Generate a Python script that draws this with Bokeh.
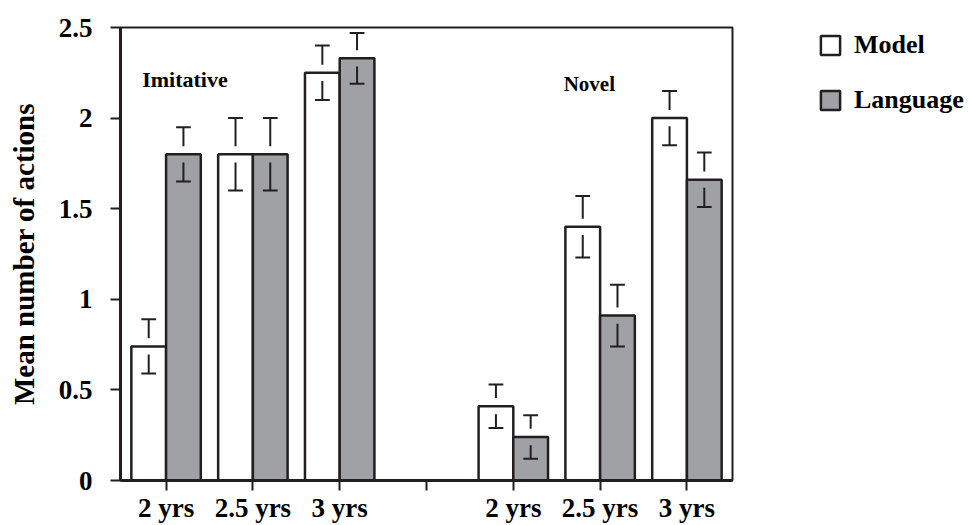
from bokeh.plotting import figure
from bokeh.models import (ColumnDataSource, Range1d, FixedTicker, Legend, LegendItem, Label)
from bokeh.layouts import row
from bokeh.embed import file_html
from bokeh.resources import INLINE

# ---------------- data ----------------
groups = ["Imitative", "Novel"]
ages = ["2 yrs", "2.5 yrs", "3 yrs"]
series = ["Model", "Language"]

imitative_model = [0.74, 1.80, 2.25]
imitative_model_err = [0.15, 0.20, 0.15]
imitative_language = [1.80, 1.80, 2.33]
imitative_language_err = [0.15, 0.20, 0.14]

novel_model = [0.41, 1.40, 2.00]
novel_model_err = [0.12, 0.17, 0.15]
novel_language = [0.24, 0.91, 1.66]
novel_language_err = [0.12, 0.17, 0.15]

y_ticks = [0, 0.5, 1, 1.5, 2, 2.5]
y_tick_labels = ["0", "0.5", "1", "1.5", "2", "2.5"]

# ---------------- styles ----------------
FONT = "Liberation Serif"
INK = "#231f20"
GREY = "#a0a1a5"
BAR_W = 0.4
OFFSET = 0.2
CAP_W = 0.17
GAP = 0.045
fills = {series[0]: "white", series[1]: GREY}

# tick positions: 1..3 for first group, 4 empty, 5..7 for second group
tick_pos = []
tick_lab = {}
group_x = {}
pos = 1
for gi, g in enumerate(groups):
    group_x[g] = []
    for a in ages:
        tick_pos.append(pos)
        tick_lab[pos] = a
        group_x[g].append(pos)
        pos += 1
    if gi < len(groups) - 1:
        tick_pos.append(pos)
        tick_lab[pos] = ""
        pos += 1

centers = group_x[groups[0]] + group_x[groups[1]]
series_vals = {series[0]: imitative_model + novel_model,
               series[1]: imitative_language + novel_language}
series_errs = {series[0]: imitative_model_err + novel_model_err,
               series[1]: imitative_language_err + novel_language_err}
series_shift = {series[0]: -OFFSET, series[1]: OFFSET}

p = figure(width=734, height=525, output_backend="svg", toolbar_location=None,
           x_range=Range1d(0.475, 7.525), y_range=Range1d(0, 2.5),
           min_border_left=120, min_border_top=27, min_border_right=2,
           min_border_bottom=44)
p.xgrid.visible = False
p.ygrid.visible = False
p.outline_line_color = INK
p.outline_line_width = 2
p.background_fill_color = "white"
p.border_fill_color = "white"

sources = {}
for s in series:
    vals = series_vals[s]
    errs = series_errs[s]
    xs = [c + series_shift[s] for c in centers]
    src = ColumnDataSource(dict(x=xs, top=vals))
    sources[s] = src
    p.vbar(x="x", top="top", width=BAR_W, bottom=0, source=src,
           fill_color=fills[s], line_color=INK, line_width=2.5)
    up0 = [v + GAP for v in vals]
    up1 = [v + e for v, e in zip(vals, errs)]
    lo0 = [v - GAP for v in vals]
    lo1 = [v - e for v, e in zip(vals, errs)]
    p.segment(x0=xs, y0=up0, x1=xs, y1=up1, line_color=INK, line_width=2)
    p.segment(x0=xs, y0=lo0, x1=xs, y1=lo1, line_color=INK, line_width=2)
    p.segment(x0=[x - CAP_W / 2 for x in xs], y0=up1, x1=[x + CAP_W / 2 for x in xs], y1=up1,
              line_color=INK, line_width=2)
    p.segment(x0=[x - CAP_W / 2 for x in xs], y0=lo1, x1=[x + CAP_W / 2 for x in xs], y1=lo1,
              line_color=INK, line_width=2)

# axes
p.xaxis.ticker = FixedTicker(ticks=tick_pos)
p.xaxis.major_label_overrides = tick_lab
p.yaxis.ticker = FixedTicker(ticks=y_ticks)
p.yaxis.major_label_overrides = {t: l for t, l in zip(y_ticks, y_tick_labels)}
for ax in (p.xaxis[0], p.yaxis[0]):
    ax.axis_line_color = INK
    ax.axis_line_width = 3
    ax.major_tick_line_color = INK
    ax.major_tick_line_width = 2
    ax.major_tick_in = 0
    ax.major_tick_out = 10
    ax.minor_tick_line_color = None
    ax.major_label_text_font = FONT
    ax.major_label_text_font_style = "bold"
    ax.major_label_text_font_size = "27px"
    ax.major_label_text_color = "black"
p.xaxis.major_label_standoff = 2
p.yaxis.major_label_standoff = 18
p.yaxis.axis_label = "Mean number of actions"
p.yaxis.axis_label_text_font = FONT
p.yaxis.axis_label_text_font_style = "bold"
p.yaxis.axis_label_text_font_size = "29px"
p.yaxis.axis_label_text_color = "black"
p.yaxis.axis_label_standoff = 16

# group labels
label_pos = {groups[0]: (0.725, 2.215), groups[1]: (5.58, 2.19)}
label_size = {groups[0]: "22px", groups[1]: "21px"}
for g in groups:
    lx, ly = label_pos[g]
    p.add_layout(Label(x=lx, y=ly, text=g, text_font=FONT, text_font_style="bold",
                       text_font_size=label_size[g], text_baseline="middle", text_color="black"))

# legend panel (separate blank figure to the right of the plot)
lg = figure(width=236, height=525, output_backend="svg", toolbar_location=None,
            x_range=Range1d(0, 1), y_range=Range1d(0, 1),
            x_axis_location=None, y_axis_location=None, min_border=0)
lg.xgrid.visible = False
lg.ygrid.visible = False
lg.outline_line_color = None
lg.background_fill_color = "white"
lg.border_fill_color = "white"
items = []
for s in series:
    # same data, not drawn here: only provides the legend swatch
    rr = lg.vbar(x="x", top="top", width=BAR_W, source=sources[s], fill_color=fills[s],
                 line_color=INK, line_width=2.5, visible=False)
    items.append(LegendItem(label=s, renderers=[rr]))
legend = Legend(items=items, location=(84, 365))
legend.padding = 0
legend.margin = 0
legend.border_line_color = None
legend.background_fill_alpha = 0
legend.inactive_fill_alpha = 0
legend.glyph_width = 24
legend.glyph_height = 24
legend.label_height = 24
legend.label_standoff = 12
legend.spacing = 25
legend.label_text_font = FONT
legend.label_text_font_style = "bold"
legend.label_text_font_size = "26px"
legend.label_text_color = "black"
lg.add_layout(legend, "center")

layout = row(p, lg)
open("out.html", "w").write(file_html(layout, INLINE))
